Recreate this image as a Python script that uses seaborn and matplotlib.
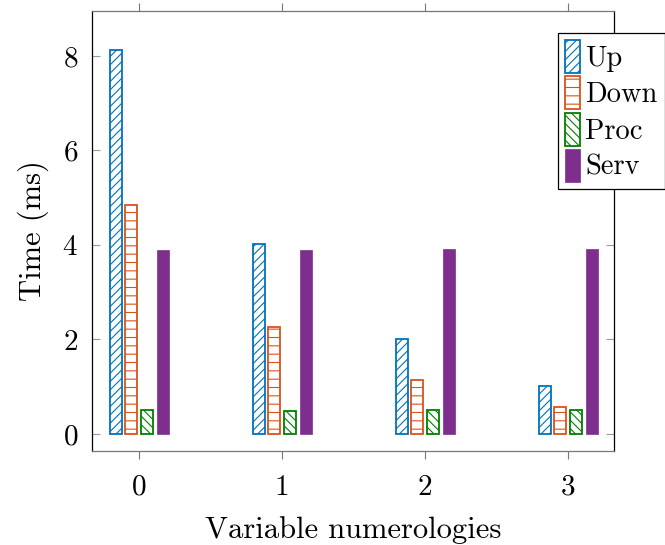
import numpy as np
import pandas as pd
import matplotlib
matplotlib.use("Agg")
import matplotlib.pyplot as plt
import seaborn as sns

numerologies = [0, 1, 2, 3]
series = ["Up", "Down", "Proc", "Serv"]
up = [8.13, 4.03, 2.01, 1.01]
down = [4.85, 2.26, 1.15, 0.58]
proc = [0.50, 0.49, 0.50, 0.50]
serv = [3.89, 3.89, 3.92, 3.92]

edge_colors = ["#0072BD", "#D95319", "#008000", "#7E2F8E"]
face_colors = ["white", "white", "white", "#7E2F8E"]
hatches = ["////", "--", "\\\\\\\\", ""]

df = pd.DataFrame({
    "Numerology": numerologies * 4,
    "Series": [s for s in series for _ in numerologies],
    "Time": up + down + proc + serv,
})

sns.set_theme(style="white")
plt.rcParams["font.family"] = ["cmr10", "DejaVu Serif"]
plt.rcParams["axes.formatter.use_mathtext"] = True
plt.rcParams["mathtext.fontset"] = "cm"
plt.rcParams["hatch.linewidth"] = 0.8
plt.rcParams["text.color"] = "black"
plt.rcParams["axes.labelcolor"] = "black"
plt.rcParams["xtick.labelcolor"] = "black"
plt.rcParams["ytick.labelcolor"] = "black"

fig, ax = plt.subplots(figsize=(6.65, 5.45), dpi=100)
fig.subplots_adjust(left=92/665, right=614/665, top=1-11/545, bottom=1-451/545)

sns.barplot(data=df, x="Numerology", y="Time", hue="Series",
            order=numerologies, hue_order=series, width=0.44, gap=0.24,
            palette=edge_colors, ax=ax, legend=False, saturation=1)

handles = []
for i, cont in enumerate(ax.containers):
    for p in cont.patches:
        p.set_facecolor(face_colors[i])
        p.set_edgecolor(edge_colors[i])
        p.set_hatch(hatches[i])
        p.set_linewidth(1.3 if i < 3 else 0.5)
    handles.append(cont.patches[0])

ax.set_xlim(-0.33, 3.32)
ax.set_ylim(-0.36, 8.95)
ax.set_yticks([0, 2, 4, 6, 8])
ax.set_xlabel("Variable numerologies", fontsize=22, labelpad=11)
ax.set_ylabel("Time (ms)", fontsize=22, labelpad=10)

for side in ["left", "right"]:
    ax.spines[side].set_color("black")
    ax.spines[side].set_linewidth(0.9)
for side in ["top", "bottom"]:
    ax.spines[side].set_color("#777777")
    ax.spines[side].set_linewidth(0.9)

ax.tick_params(axis="x", which="both", direction="out", top=True, bottom=True,
               length=6, width=0.8, color="#777777", labelsize=21, pad=11)
ax.tick_params(axis="y", which="both", direction="in", left=True, right=True,
               length=6, width=0.8, color="#999999", labelsize=21, pad=10)

leg = ax.legend(handles, series, loc="upper left", bbox_to_anchor=(0.893, 0.95),
                fontsize=20.5, handlelength=0.5, handleheight=1.4, handletextpad=0.2,
                labelspacing=0.12, borderpad=0.25, borderaxespad=0,
                fancybox=False, framealpha=1, edgecolor="black")
leg.get_frame().set_linewidth(0.9)

fig.savefig("out.png", dpi=100)
